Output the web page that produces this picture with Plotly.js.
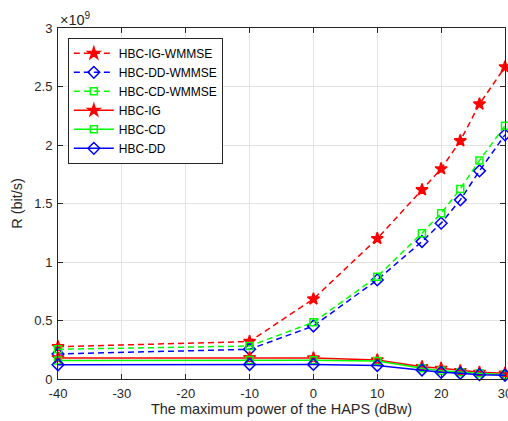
<!DOCTYPE html>
<html>
<head>
<meta charset="utf-8">
<script src="https://cdn.plot.ly/plotly-3.0.1.min.js"></script>
<style>html,body{margin:0;padding:0;background:#fff}#chart{width:508px;height:421px}</style>
</head>
<body>
<div id="chart"></div>
<script>
// x: maximum power of the HAPS (dBw)
const powerDBw = [-40, -10, 0, 10, 17, 20, 23, 26, 30];
// R in units of 1e9 bit/s
const igWmmse = [0.276, 0.32, 0.684, 1.20, 1.617, 1.796, 2.036, 2.35, 2.667];
const ddWmmse = [0.214, 0.254, 0.453, 0.847, 1.175, 1.332, 1.531, 1.779, 2.087];
const cdWmmse = [0.254, 0.282, 0.485, 0.875, 1.246, 1.417, 1.625, 1.868, 2.164];
const ig = [0.180, 0.182, 0.180, 0.163, 0.105, 0.091, 0.071, 0.057, 0.049];
const cd = [0.158, 0.162, 0.160, 0.154, 0.091, 0.071, 0.057, 0.049, 0.037];
const dd = [0.122, 0.124, 0.125, 0.115, 0.077, 0.057, 0.049, 0.037, 0.031];
const yTicks = [0, 0.5, 1, 1.5, 2, 2.5, 3];
const yTickText = ['0', '0.5', '1', '1.5', '2', '2.5', '3'];
const xTicks = [-40, -30, -20, -10, 0, 10, 20, 30];
const xTickText = ['-40', '-30', '-20', '-10', '0', '10', '20', '30'];

const FONT = 'Liberation Sans, Arial, Helvetica, sans-serif';
const RED = '#ff0000', GREEN = '#00ff00', BLUE = '#0000ff';
function tr(name, y, color, dash, symbol, size) {
  return {
    x: powerDBw, y: y, name: name, type: 'scatter', mode: 'lines+markers',
    cliponaxis: false,
    line: {color: color, width: 1.5, dash: dash},
    marker: {symbol: symbol, size: size, color: color, line: {color: color, width: 1.5}}
  };
}
const DASH = '6px,4px';
const data = [
  tr('HBC-IG-WMMSE', igWmmse, RED, DASH, 'star', 9),
  tr('HBC-DD-WMMSE', ddWmmse, BLUE, DASH, 'diamond-open', 9),
  tr('HBC-CD-WMMSE', cdWmmse, GREEN, DASH, 'square-open', 7),
  tr('HBC-IG', ig, RED, 'solid', 'star', 9),
  tr('HBC-CD', cd, GREEN, 'solid', 'square-open', 7),
  tr('HBC-DD', dd, BLUE, 'solid', 'diamond-open', 9)
];
const axisCommon = {
  showline: true, linecolor: '#262626', linewidth: 1, mirror: 'ticks',
  ticks: 'inside', ticklen: 5, tickcolor: '#262626', tickwidth: 1,
  showgrid: true, gridcolor: '#e3e3e3', gridwidth: 1, zeroline: false,
  ticklabeloverflow: 'allow',
  tickfont: {family: FONT, size: 13, color: '#262626'}
};
const layout = {
  width: 508, height: 421,
  margin: {l: 58, r: 3, t: 28, b: 42},
  paper_bgcolor: '#ffffff', plot_bgcolor: '#ffffff',
  showlegend: true,
  legend: {
    x: 0.022, y: 0.972, xanchor: 'left', yanchor: 'top',
    bgcolor: '#ffffff', bordercolor: '#262626', borderwidth: 1,
    font: {family: FONT, size: 12, color: '#000'},
    tracegroupgap: 0, itemwidth: 40
  },
  xaxis: Object.assign({}, axisCommon, {
    range: [-40, 30], tickvals: xTicks, ticktext: xTickText, ticklabelstandoff: 2,
    title: {text: 'The maximum power of the HAPS (dBw)', standoff: 2,
      font: {family: FONT, size: 14.5, color: '#262626'}}
  }),
  yaxis: Object.assign({}, axisCommon, {
    range: [0, 3], tickvals: yTicks, ticktext: yTickText, ticklabelstandoff: 2,
    title: {text: 'R (bit/s)', standoff: 8,
      font: {family: FONT, size: 14.5, color: '#262626'}}
  }),
  annotations: [{
    xref: 'paper', yref: 'paper', x: 0, y: 1, xanchor: 'left', yanchor: 'bottom',
    showarrow: false, text: '×10<sup>9</sup>', yshift: -2,
    font: {family: FONT, size: 14.5, color: '#262626'}
  }]
};
Plotly.newPlot('chart', data, layout, {staticPlot: true, displayModeBar: false});
</script>
</body>
</html>
